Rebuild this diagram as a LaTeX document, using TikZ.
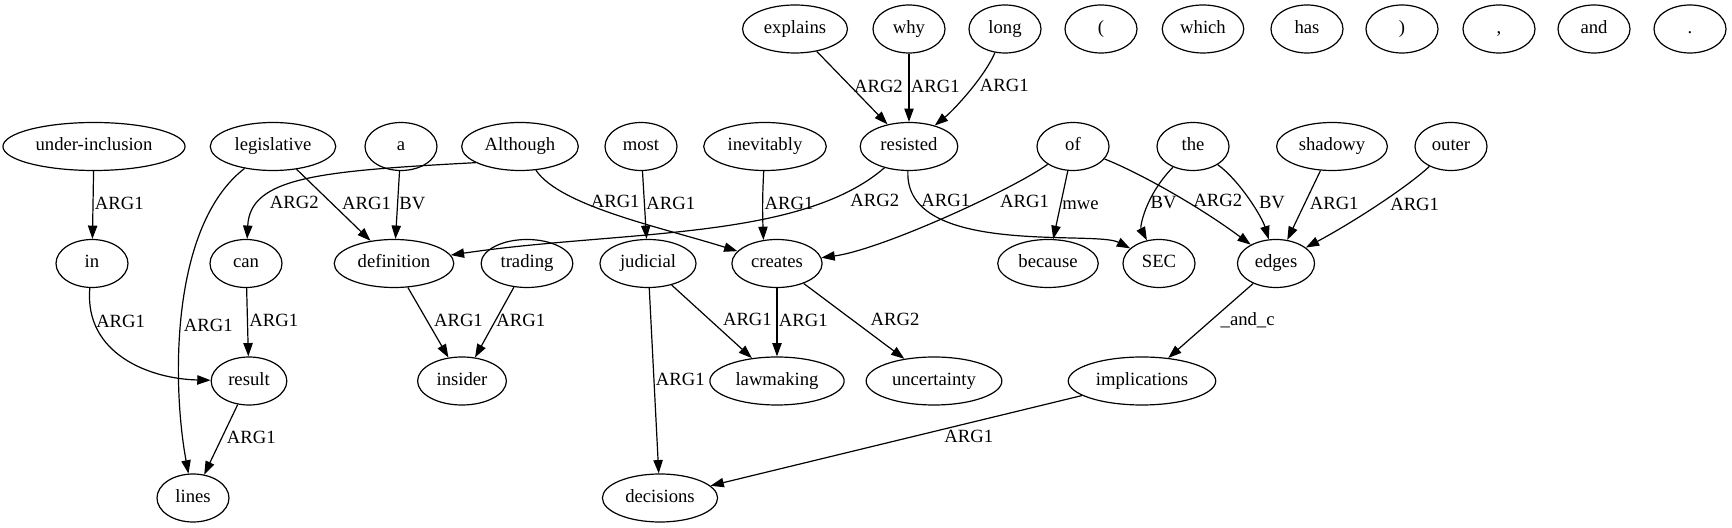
\documentclass[tikz,border=0pt]{standalone}
\usepackage{fontspec}
\setmainfont{Liberation Serif}
\usetikzlibrary{shapes.geometric,arrows.meta}
\begin{document}
\begin{tikzpicture}[x=0.75pt,y=0.75pt,>={Triangle[length=10pt,width=7pt]},line join=bevel,line width=0.9pt,
  word/.style={draw,ellipse,minimum width=54pt,minimum height=36pt,inner xsep=4.5pt,inner ysep=0pt,text height=10pt,text depth=3.5pt,font=\fontsize{14}{16}\selectfont},
  lbl/.style={anchor=west,inner sep=1pt,text height=10pt,text depth=3.5pt,font=\fontsize{14}{16}\selectfont}]
\useasboundingbox (0,0) rectangle (1732,528);

 \node (node_explains) at (795,499) [word] {explains};
 \node (node_why) at (909,499) [word] {why};
 \node (node_long) at (1005,499) [word] {long};
 \node (node_lparen) at (1101,499) [word] {(};
 \node (node_which) at (1203,499) [word] {which};
 \node (node_has) at (1307,499) [word] {has};
 \node (node_rparen) at (1402,499) [word] {)};
 \node (node_comma) at (1499,499) [word] {,};
 \node (node_and) at (1594,499) [word] {and};
 \node (node_period) at (1690,499) [word] {.};

 \node (node_underinclusion) at (94,381.5) [word] {under-inclusion};
 \node (node_legislative) at (273,381.5) [word] {legislative};
 \node (node_a) at (401,381.5) [word] {a};
 \node (node_Although) at (520,381.5) [word] {Although};
 \node (node_most) at (641,381.5) [word] {most};
 \node (node_inevitably) at (765,381.5) [word] {inevitably};
 \node (node_resisted) at (909,381.5) [word] {resisted};
 \node (node_of) at (1073,381.5) [word] {of};
 \node (node_the) at (1193,381.5) [word] {the};
 \node (node_shadowy) at (1332,381.5) [word] {shadowy};
 \node (node_outer) at (1451,381.5) [word] {outer};

 \node (node_in) at (92,264.5) [word] {in};
 \node (node_can) at (246,264.5) [word] {can};
 \node (node_definition) at (394,264.5) [word] {definition};
 \node (node_trading) at (527,264.5) [word] {trading};
 \node (node_judicial) at (648,264.5) [word] {judicial};
 \node (node_creates) at (777,264.5) [word] {creates};
 \node (node_because) at (1048,264.5) [word] {because};
 \node (node_SEC) at (1159,264.5) [word] {SEC};
 \node (node_edges) at (1276,264.5) [word] {edges};

 \node (node_result) at (249,147) [word] {result};
 \node (node_insider) at (462,147) [word] {insider};
 \node (node_lawmaking) at (777,147) [word] {lawmaking};
 \node (node_uncertainty) at (934,147) [word] {uncertainty};
 \node (node_implications) at (1142,147) [word] {implications};

 \node (node_lines) at (193,30) [word] {lines};
 \node (node_decisions) at (660,30) [word] {decisions};

  \draw [black,->] (node_explains) edge node[lbl] {ARG2} (node_resisted);
  \draw [black,->] (node_why) edge node[lbl] {ARG1} (node_resisted);
  \draw [black,->] (node_long) .. controls (985,452) and (955,419) .. (node_resisted) node[lbl,pos=0.45,xshift=4.5pt] {ARG1};

  \draw [black,->] (node_underinclusion) edge node[lbl] {ARG1} (node_in);
  \draw [black,->] (node_legislative) edge node[lbl,xshift=5pt] {ARG1} (node_definition);
  \draw [black,->] (node_a) edge node[lbl] {BV} (node_definition);
  \draw [black,->] (node_Although.200) .. controls (320,357) and (250,351) .. (node_can) node[lbl,pos=0.77,xshift=6pt] {ARG2};
  \draw [black,->] (node_Although) .. controls (560,322) and (660,301) .. (node_creates) node[lbl,pos=0.35,xshift=3pt] {ARG1};
  \draw [black,->] (node_most) edge node[lbl] {ARG1} (node_judicial);
  \draw [black,->] (node_inevitably) edge[out=-93,in=92] node[lbl] {ARG1} (node_creates.120);
  \draw [black,->] (node_resisted) .. controls (800,287) and (620,298) .. (node_definition) node[lbl,pos=0.2,xshift=19pt] {ARG2};
  \draw [black,->] (node_resisted) .. controls (904,271) and (1095,298) .. (node_SEC) node[lbl,pos=0.15,xshift=1pt] {ARG1};
  \draw [black,->] (node_of) .. controls (1010,337) and (880,278) .. (node_creates) node[lbl,pos=0.37,xshift=16.5pt] {ARG1};
  \draw [black,->] (node_of) edge node[lbl] {mwe} (node_because);
  \draw [black,->] (node_of) .. controls (1140,355) and (1200,321) .. (node_edges) node[lbl,pos=0.6,xshift=3pt] {ARG2};
  \draw [black,->] (node_the) .. controls (1145,332) and (1140,301) .. (node_SEC) node[lbl,pos=0.43] {BV};
  \draw [black,->] (node_the) .. controls (1240,347) and (1262,311) .. (node_edges) node[lbl,pos=0.55,xshift=4pt] {BV};
  \draw [black,->] (node_shadowy) edge node[lbl,xshift=3pt] {ARG1} (node_edges);
  \draw [black,->] (node_outer) .. controls (1405,339) and (1350,304) .. (node_edges) node[lbl,pos=0.5,xshift=10pt] {ARG1};

  \draw [black,->] (node_in) .. controls (84,174) and (150,149) .. (node_result) node[lbl,pos=0.2] {ARG1};
  \draw [black,->] (node_legislative) .. controls (170,302) and (172,143) .. (node_lines) node[lbl,pos=0.55,xshift=1pt] {ARG1};
  \draw [black,->] (node_can) edge node[lbl] {ARG1} (node_result);
  \draw [black,->] (node_definition) edge node[lbl,xshift=3pt] {ARG1} (node_insider);
  \draw [black,->] (node_trading) edge node[lbl] {ARG1} (node_insider);
  \draw [black,->] (node_judicial) edge node[lbl,xshift=7pt] {ARG1} (node_lawmaking);
  \draw [black,->] (node_creates) edge node[lbl] {ARG1} (node_lawmaking);
  \draw [black,->] (node_creates) edge node[lbl,xshift=11pt] {ARG2} (node_uncertainty);
  \draw [black,->] (node_edges) edge node[lbl,xshift=6pt] {\_and\_c} (node_implications);
  \draw [black,->] (node_judicial) edge node[lbl] {ARG1} (node_decisions);

  \draw [black,->] (node_result) edge node[lbl,xshift=3pt] {ARG1} (node_lines);
  \draw [black,->] (node_implications) edge node[lbl,anchor=north,pos=0.305,yshift=-3pt] {ARG1} (node_decisions);

\end{tikzpicture}
\end{document}
